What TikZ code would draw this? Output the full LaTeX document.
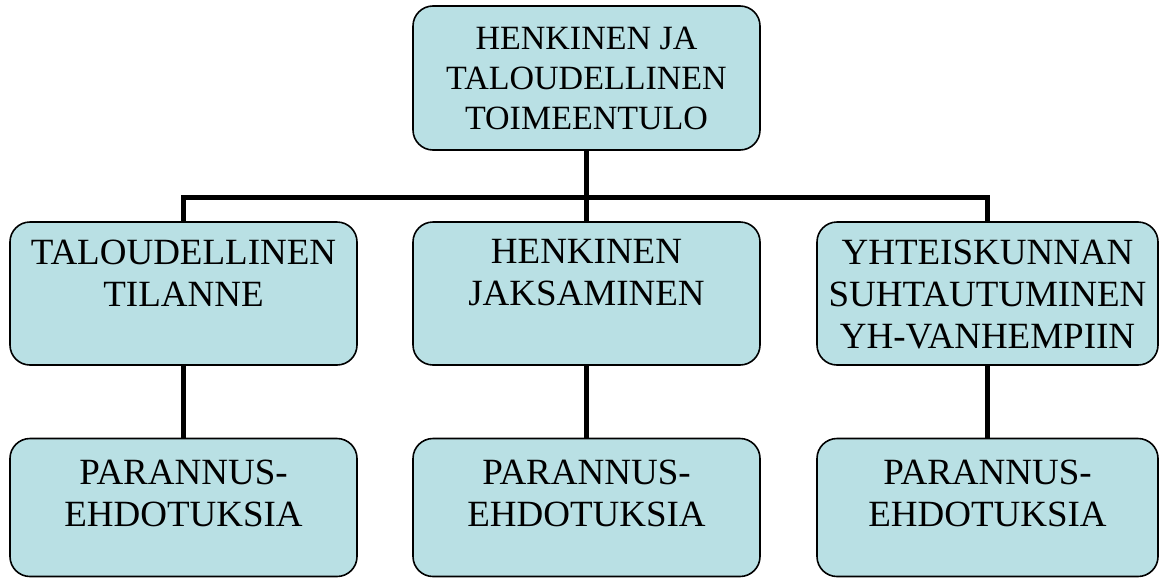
\documentclass[tikz,border=0pt]{standalone}
\usepackage{fontspec}
\setmainfont{Liberation Serif}
\usetikzlibrary{positioning, backgrounds}
\definecolor{boxfill}{RGB}{185,224,228}
\tikzset{
  orgbox/.style={draw=black, line width=0.8pt, fill=boxfill, rounded corners=10pt,
                 minimum width=173.5pt, minimum height=71.5pt, inner sep=0pt},
  boxtext/.style={align=center, inner sep=0pt, anchor=north,
                  font=\fontsize{18.5}{21}\selectfont},
  link/.style={line width=2.5pt}
}

\begin{document}
\begin{tikzpicture}[x=0.5pt, y=-0.5pt]

\useasboundingbox (0,0) rectangle (1159,578);

% --- Boxes ---
\node[orgbox, minimum height=72pt, align=center, font=\fontsize{17}{20}\selectfont] (top) at (586.5,78)
  {HENKINEN JA\\TALOUDELLINEN\\TOIMEENTULO};

\node[orgbox] (midL) at (183.5,293.5) {};
\node[orgbox] (midM) at (586.5,293.5) {};
\node[orgbox, minimum width=170.5pt] (midR) at (987.5,293.5) {};

\node[orgbox, minimum height=69pt] (botL) at (183.5,507.5) {};
\node[orgbox, minimum height=69pt] (botM) at (586.5,507.5) {};
\node[orgbox, minimum height=69pt, minimum width=170.5pt] (botR) at (987.5,507.5) {};

% --- Connectors ---
\coordinate (bar) at (586.5,197);
\begin{pgfonlayer}{background}
\draw[link] (top.south) -- (bar);
\draw[link] (midL.north) -- (midL.north |- bar) -- (midR.north |- bar) -- (midR.north);
\draw[link] (bar) -- (midM.north);
\draw[link] (midL.south) -- (botL.north);
\draw[link] (midM.south) -- (botM.north);
\draw[link] (midR.south) -- (botR.north);
\end{pgfonlayer}

% --- Labels ---
\node[boxtext] (midLt) at ([yshift=-9pt]midL.north) {TALOUDELLINEN\\TILANNE};
\node[boxtext] (midMt) at ([yshift=-9pt]midM.north) {HENKINEN\\JAKSAMINEN};
\node[boxtext] (midRt) at ([yshift=-9pt]midR.north) {YHTEISKUNNAN\\SUHTAUTUMINEN\\YH-VANHEMPIIN};

\node[boxtext] (botLt) at ([yshift=-11pt]botL.north) {PARANNUS-\\EHDOTUKSIA};
\node[boxtext] (botMt) at ([yshift=-11pt]botM.north) {PARANNUS-\\EHDOTUKSIA};
\node[boxtext] (botRt) at ([yshift=-11pt]botR.north) {PARANNUS-\\EHDOTUKSIA};

\end{tikzpicture}
\end{document}
